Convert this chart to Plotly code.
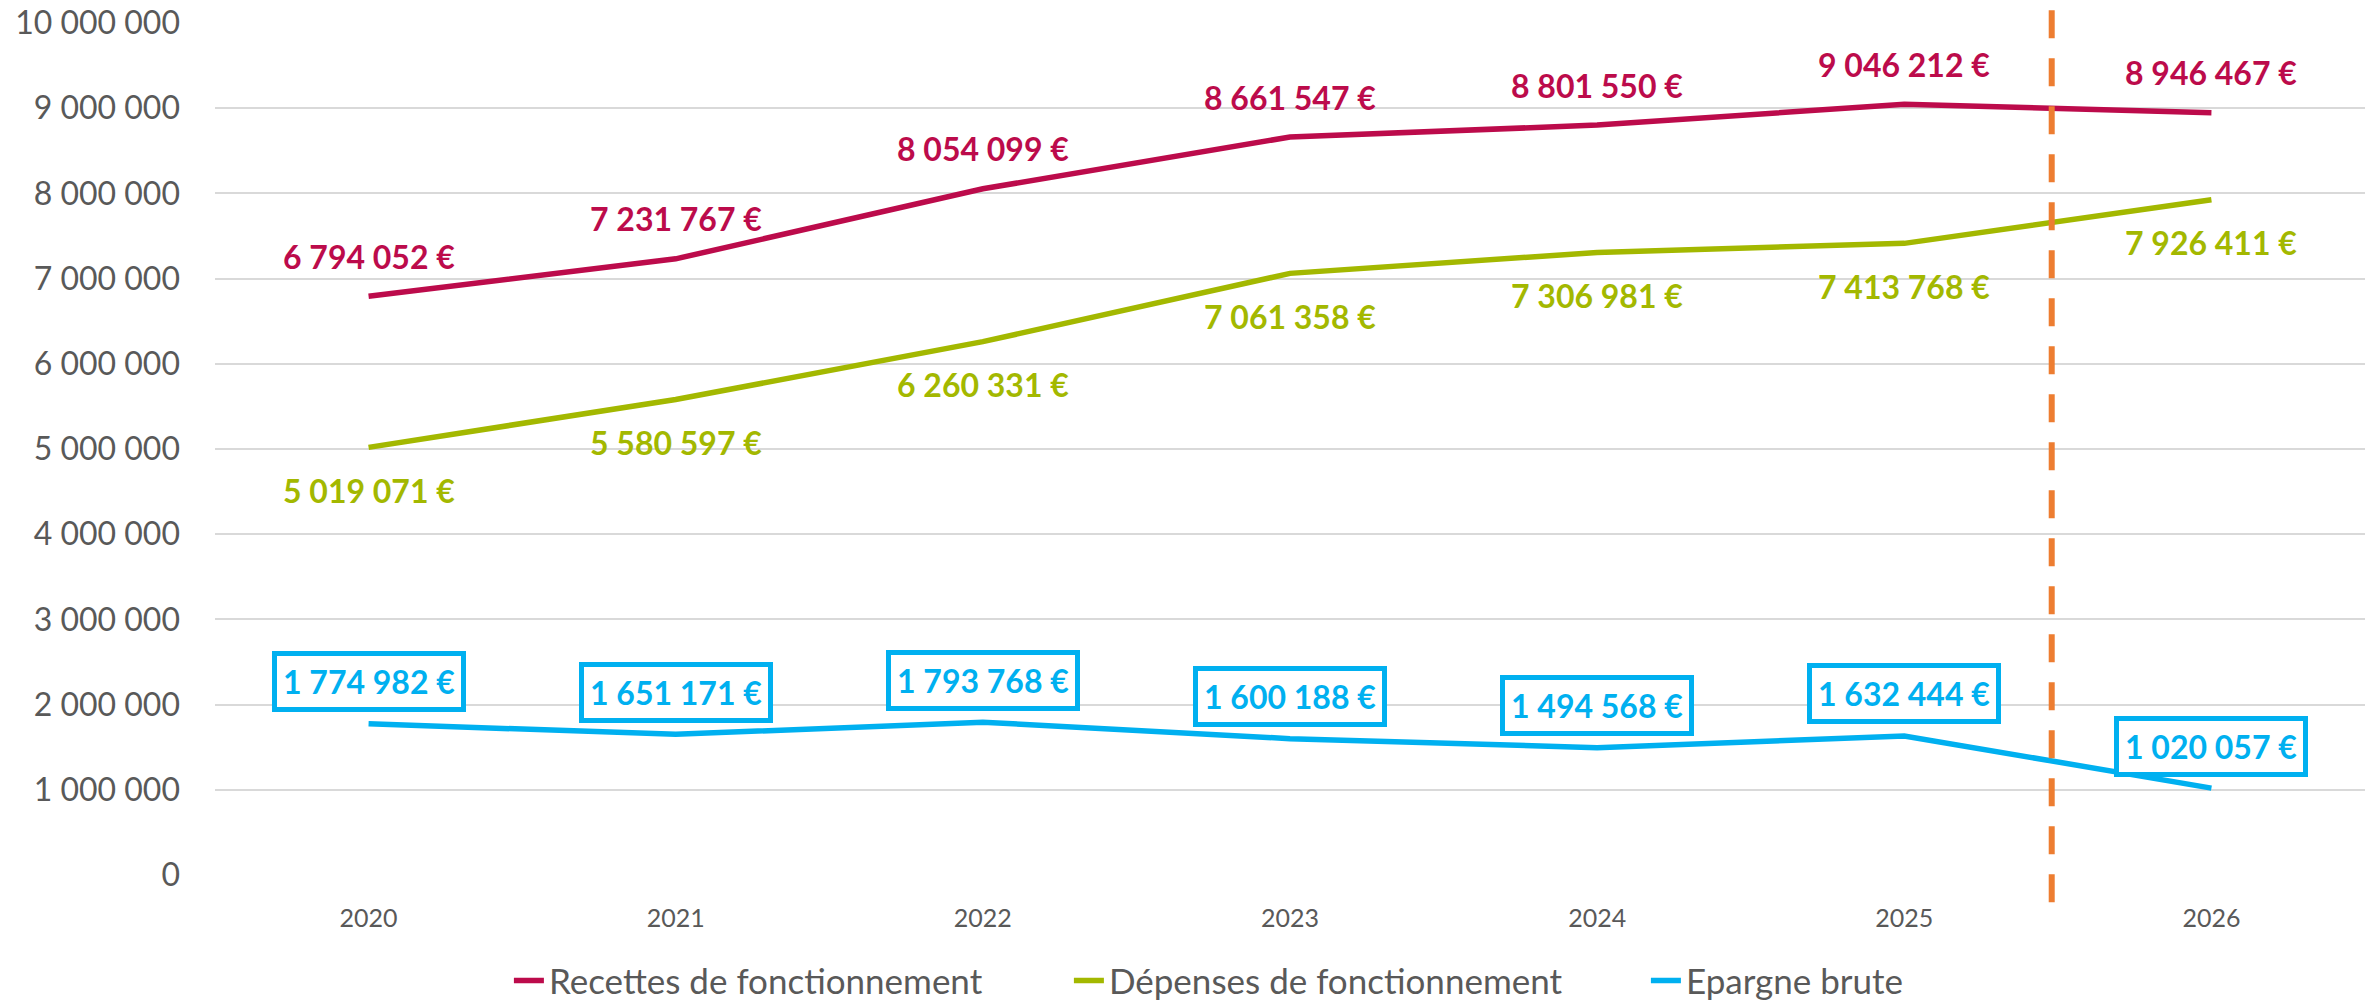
import plotly.graph_objects as go

years = ["2020", "2021", "2022", "2023", "2024", "2025", "2026"]
recettes = [6794052, 7231767, 8054099, 8661547, 8801550, 9046212, 8946467]
depenses = [5019071, 5580597, 6260331, 7061358, 7306981, 7413768, 7926411]
epargne = [1774982, 1651171, 1793768, 1600188, 1494568, 1632444, 1020057]
y_ticks = [0, 1000000, 2000000, 3000000, 4000000, 5000000, 6000000, 7000000, 8000000, 9000000, 10000000]
y_tick_labels = ["0", "1 000 000", "2 000 000", "3 000 000", "4 000 000", "5 000 000",
                 "6 000 000", "7 000 000", "8 000 000", "9 000 000", "10 000 000"]
separator_pos = 5.48

C_REC = "#BC0B4B"
C_DEP = "#A3B800"
C_EPA = "#00B0F0"
C_SEP = "#ED7D31"
FONT = "Lato"

xpos = list(range(len(years)))


def fmt(v):
    return "<b>" + f"{v:,}".replace(",", " ") + " €</b>"


fig = go.Figure()
series = [
    ("Recettes de fonctionnement", recettes, C_REC, 515),
    ("Dépenses de fonctionnement", depenses, C_DEP, 532),
    ("Epargne brute", epargne, C_EPA, 225),
]
for name, vals, col, lw in series:
    fig.add_trace(go.Scatter(
        x=xpos, y=vals, name=name, mode="lines",
        line=dict(color=col, width=5.5), hoverinfo="skip",
        legendwidth=lw,
    ))

for i in xpos:
    fig.add_annotation(x=i, y=recettes[i], xref="x", yref="y", text=fmt(recettes[i]),
                       showarrow=False, yshift=40, yanchor="middle",
                       font=dict(family=FONT, size=32, color=C_REC))
    fig.add_annotation(x=i, y=depenses[i], xref="x", yref="y", text=fmt(depenses[i]),
                       showarrow=False, yshift=-43, yanchor="middle",
                       font=dict(family=FONT, size=32, color=C_DEP))
    fig.add_annotation(x=i, y=epargne[i], xref="x", yref="y", text=fmt(epargne[i]),
                       showarrow=False, yshift=42, yanchor="middle",
                       bordercolor=C_EPA, borderwidth=5, borderpad=6, bgcolor="white",
                       font=dict(family=FONT, size=32, color=C_EPA))

fig.add_shape(type="line", xref="x", yref="paper", x0=separator_pos, x1=separator_pos,
              y0=1.015, y1=-0.055, line=dict(color=C_SEP, width=6, dash="28px,20px"))

fig.update_layout(
    width=2379, height=1000,
    margin=dict(l=215, r=14, t=23, b=125, autoexpand=False),
    paper_bgcolor="white", plot_bgcolor="white",
    font=dict(family=FONT, color="#595959"),
    showlegend=True,
    legend=dict(orientation="h", x=0.1367, xanchor="left", y=-0.124, yanchor="middle",
                font=dict(family=FONT, size=35, color="#595959"),
                tracegroupgap=0),
    xaxis=dict(range=[-0.5, 6.5], tickvals=xpos, ticktext=years, showgrid=False, zeroline=False,
               showline=False, ticks="", tickfont=dict(family=FONT, size=25, color="#595959"),
               ticklabelstandoff=26),
    yaxis=dict(range=[0, 10000000], tickvals=y_ticks, ticktext=y_tick_labels,
               showgrid=True, gridcolor="#D9D9D9", gridwidth=2, zeroline=False,
               showline=False, ticks="", tickfont=dict(family=FONT, size=32, color="#595959"),
               ticklabelstandoff=34),
)

fig.write_html(
    "out.html",
    config={"displayModeBar": False},
    post_script="document.body.style.margin='0';document.body.style.overflow='hidden';",
)
